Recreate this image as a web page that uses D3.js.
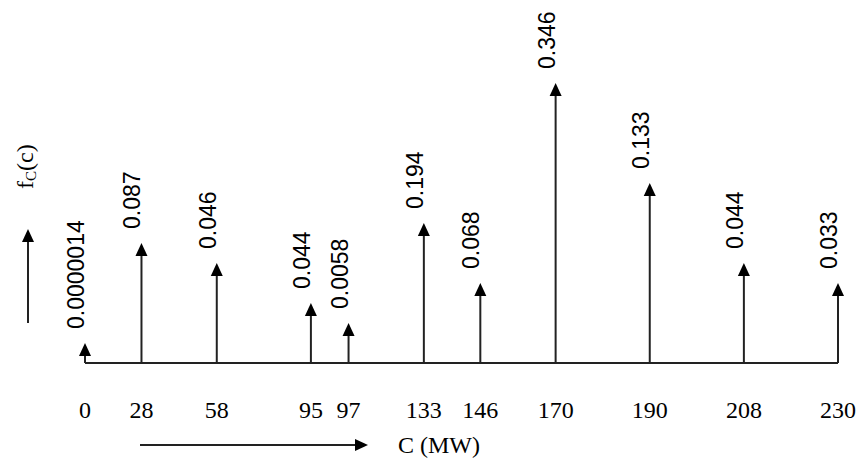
<!DOCTYPE html>
<html>
<head>
<meta charset="utf-8">
<script src="https://cdn.jsdelivr.net/npm/d3@7"></script>
<style>
  body { margin: 0; background: #fff; }
  svg { display: block; }
</style>
</head>
<body>
<div id="chart"></div>
<script>
/* DATA */
// capacity outage states C (MW) and their probabilities fC(c)
const capacity = [0, 28, 58, 95, 97, 133, 146, 170, 190, 208, 230];
const prob = ["0.0000014", "0.087", "0.046", "0.044", "0.0058", "0.194", "0.068", "0.346", "0.133", "0.044", "0.033"];
// the figure is schematic: stems sit on a drawing grid, not to scale
const gridX = [0, 3, 7, 12, 14, 18, 21, 25, 30, 35, 40];
const gridH = [1, 6, 5, 3, 2, 7, 4, 14, 9, 5, 4];

const width = 859, height = 459;
const ink = "#222";

const data = capacity.map((c, i) => ({ c, p: prob[i], gx: gridX[i], gh: gridH[i] }));

const svg = d3.select("#chart").append("svg")
  .attr("width", width)
  .attr("height", height);

const x = d3.scaleLinear().domain([0, 40]).range([85, 838]);
const y = d3.scaleLinear().domain([0, 14]).range([363, 83]);

// arrowhead pointing up, tip at (tx, ty)
const headUp = (tx, ty) => `M${tx},${ty}L${tx - 6},${ty + 13}L${tx + 6},${ty + 13}Z`;
const headRight = (tx, ty) => `M${tx},${ty}L${tx - 13},${ty - 6}L${tx - 13},${ty + 6}Z`;

// baseline
svg.append("line")
  .attr("x1", x(0)).attr("x2", x(40))
  .attr("y1", y(0)).attr("y2", y(0))
  .attr("stroke", ink).attr("stroke-width", 2);

// stems
const stem = svg.selectAll("g.stem")
  .data(data)
  .join("g")
  .attr("class", "stem");

stem.append("line")
  .attr("x1", d => x(d.gx)).attr("x2", d => x(d.gx))
  .attr("y1", y(0)).attr("y2", d => y(d.gh) + 8)
  .attr("stroke", ink).attr("stroke-width", 2);

stem.append("path")
  .attr("d", d => headUp(x(d.gx), y(d.gh)))
  .attr("fill", "#000");

// probability labels, rotated
stem.append("text")
  .attr("transform", d => `translate(${x(d.gx) - 1},${y(d.gh) - 14}) rotate(-90)`)
  .attr("font-family", "Liberation Sans, Arial, sans-serif")
  .attr("font-size", 23)
  .attr("fill", "#000")
  .text(d => d.p);

// capacity tick labels
svg.selectAll("text.tick")
  .data(data)
  .join("text")
  .attr("class", "tick")
  .attr("x", d => x(d.gx))
  .attr("y", 418)
  .attr("text-anchor", "middle")
  .attr("font-family", "Liberation Serif, Times New Roman, serif")
  .attr("font-size", 24)
  .attr("fill", "#000")
  .text(d => d.c);

// x direction arrow and title
svg.append("line")
  .attr("x1", 140).attr("x2", 356)
  .attr("y1", 445).attr("y2", 445)
  .attr("stroke", ink).attr("stroke-width", 2);
svg.append("path").attr("d", headRight(368, 445)).attr("fill", "#000");
svg.append("text")
  .attr("x", 398).attr("y", 453)
  .attr("font-family", "Liberation Serif, Times New Roman, serif")
  .attr("font-size", 24)
  .attr("fill", "#000")
  .text("C (MW)");

// y direction arrow and title
svg.append("line")
  .attr("x1", 28).attr("x2", 28)
  .attr("y1", 323).attr("y2", 240)
  .attr("stroke", ink).attr("stroke-width", 2);
svg.append("path").attr("d", headUp(28, 229)).attr("fill", "#000");

const ylab = svg.append("text")
  .attr("transform", "translate(33,189) rotate(-90)")
  .attr("font-family", "Liberation Serif, Times New Roman, serif")
  .attr("font-size", 24)
  .attr("fill", "#000");
ylab.append("tspan").text("f");
ylab.append("tspan").attr("font-size", 15).attr("dy", 3).text("C");
ylab.append("tspan").attr("dy", -3).text("(c)");
</script>
</body>
</html>
